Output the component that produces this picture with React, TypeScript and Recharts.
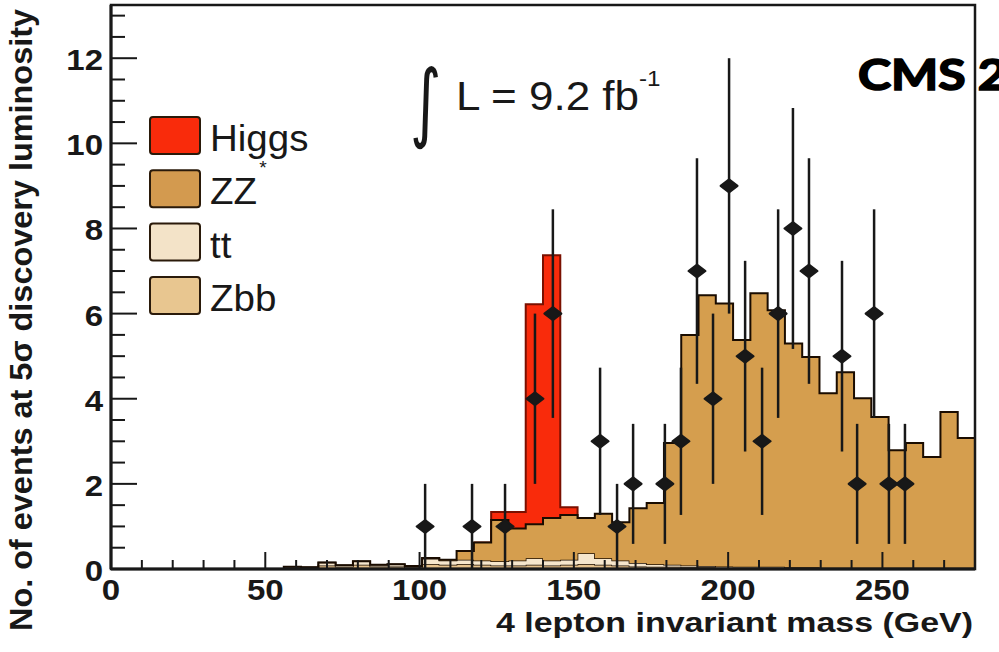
import React from 'react';
import { ComposedChart, Area, Scatter, ErrorBar, XAxis, YAxis, ReferenceArea } from 'recharts';

// ---- data ----
const binEdges = [0, 5.6, 11.2, 16.8, 22.4, 28, 33.6, 39.2, 44.8, 50.4, 56, 61.6, 67.2, 72.8, 78.4, 84, 89.6, 95.2, 100.8, 106.4, 112, 117.6, 123.2, 128.8, 134.4, 140, 145.6, 151.2, 156.8, 162.4, 168, 173.6, 179.2, 184.8, 190.4, 196, 201.6, 207.2, 212.8, 218.4, 224, 229.6, 235.2, 240.8, 246.4, 252, 257.6, 263.2, 268.8, 274.4, 280];

const zbb = [0, 0, 0, 0, 0, 0, 0, 0, 0, 0, 0.03, 0.02, 0.08, 0.05, 0.1, 0.06, 0.06, 0.04, 0.12, 0.1, 0.12, 0.1, 0.08, 0.08, 0.1, 0.08, 0.1, 0.12, 0.1, 0.08, 0.06, 0.05, 0.05, 0.04, 0.04, 0.03, 0.03, 0.03, 0.03, 0.02, 0.02, 0.02, 0.02, 0.02, 0.02, 0.02, 0.02, 0.02, 0.02, 0.02];
const ttbar = [0, 0, 0, 0, 0, 0, 0, 0, 0, 0, 0.02, 0.02, 0.07, 0.04, 0.08, 0.04, 0.05, 0.03, 0.12, 0.1, 0.1, 0.1, 0.1, 0.12, 0.15, 0.12, 0.12, 0.25, 0.15, 0.12, 0.08, 0.06, 0.05, 0.04, 0.03, 0.03, 0.02, 0.02, 0.02, 0.02, 0.02, 0.01, 0.01, 0.01, 0.01, 0.01, 0.01, 0.01, 0.01, 0.01];
const zzStar = [0, 0, 0, 0, 0, 0, 0, 0, 0, 0, 0, 0, 0, 0, 0, 0, 0, 0, 0.02, 0.02, 0.2, 0.42, 0.97, 0.75, 0.8, 1.0, 1.05, 0.83, 1.05, 0.9, 1.29, 1.44, 2.86, 5.42, 6.36, 6.18, 5.33, 6.43, 6.03, 5.26, 4.94, 4.1, 4.59, 3.98, 3.54, 2.76, 2.93, 2.6, 3.66, 3.05];
const higgs = [0, 0, 0, 0, 0, 0, 0, 0, 0, 0, 0, 0, 0, 0, 0, 0, 0, 0, 0, 0, 0, 0, 0.19, 0.39, 5.17, 6.17, 0.18, 0, 0, 0, 0, 0, 0, 0, 0, 0, 0, 0, 0, 0, 0, 0, 0, 0, 0, 0, 0, 0, 0, 0];

const dataMass = [101.8, 117.0, 127.7, 137.4, 143.2, 158.5, 164.0, 169.2, 179.5, 184.7, 189.9, 195.1, 200.3, 205.5, 211.0, 216.2, 221.0, 226.2, 236.9, 241.8, 247.3, 252.1, 257.3];
const dataCounts = [1, 1, 1, 4, 6, 3, 1, 2, 2, 3, 7, 4, 9, 5, 3, 6, 8, 7, 5, 2, 6, 2, 2];
const dataErrors = [1, 1, 1, 2, 2.45, 1.73, 1, 1.41, 1.41, 1.73, 2.65, 2, 3, 2.24, 1.73, 2.45, 2.83, 2.65, 2.24, 1.41, 2.45, 1.41, 1.41];

const xTicks = [0, 10, 20, 30, 40, 50, 60, 70, 80, 90, 100, 110, 120, 130, 140, 150, 160, 170, 180, 190, 200, 210, 220, 230, 240, 250, 260, 270, 280];
const yTicks = [0, 0.5, 1, 1.5, 2, 2.5, 3, 3.5, 4, 4.5, 5, 5.5, 6, 6.5, 7, 7.5, 8, 8.5, 9, 9.5, 10, 10.5, 11, 11.5, 12, 12.5, 13];

const seriesNames = ['Higgs', 'ZZ', 'tt', 'Zbb'];
const seriesSup = ['', '*', '', ''];

// ---- styles ----
const INK = '#181818';
const FONT = '"Liberation Sans", Arial, Helvetica, sans-serif';
const HIGGS_FILL = '#f92b0b';
const HIGGS_LINE = '#7a1000';
const ZZ_FILL = '#d59e4e';
const TT_FILL = '#f6e6cc';
const ZBB_FILL = '#e6c28c';
const BG_LINE = '#1a0c00';
const legendFills = [HIGGS_FILL, '#d39a4f', '#f3e3c8', '#e8c690'];

// ---- tables built from the arrays ----
const nBins = zbb.length;
const bgTotal = zbb.map((v, i) => v + ttbar[i] + zzStar[i]);
const histRows = binEdges.map((x, r) => {
  const i = Math.min(r, nBins - 1);
  let sig: number | null = null;
  if (r < nBins && higgs[r] > 0) sig = bgTotal[r] + higgs[r];
  else if ((r > 0 && higgs[r - 1] > 0) || (r + 1 < nBins && higgs[r + 1] > 0)) sig = bgTotal[i];
  return { x, zbb: zbb[i], tt: ttbar[i], zz: zzStar[i], sig };
});
const points = dataMass.map((x, i) => ({ x, n: dataCounts[i], err: dataErrors[i] }));

const XTick = (props: any) => {
  const { x, y, payload } = props;
  const v = payload.value;
  const major = v % 50 === 0;
  return (
    <g>
      <line x1={x} x2={x} y1={y} y2={y - (major ? 17 : 9)} stroke={INK} strokeWidth={2} />
      {major && (
        <text transform={`translate(${x},${y + 31}) scale(1.1,1)`} textAnchor="middle" fontFamily={FONT} fontWeight="bold" fontSize={30} fill={INK}>
          {v}
        </text>
      )}
    </g>
  );
};

const YTick = (props: any) => {
  const { x, y, payload } = props;
  const v = payload.value;
  const major = v % 2 === 0;
  return (
    <g>
      <line x1={x} x2={x + (major ? 26 : 14)} y1={y} y2={y} stroke={INK} strokeWidth={2} />
      {major && (
        <text transform={`translate(${x - 8},${y + 12}) scale(1.1,1)`} textAnchor="end" fontFamily={FONT} fontWeight="bold" fontSize={30} fill={INK}>
          {v}
        </text>
      )}
    </g>
  );
};

const Marker = (p: any) => {
  const { cx, cy } = p;
  if (cx == null || cy == null) return null;
  return (
    <path
      d={`M${cx - 8.5},${cy} L${cx},${cy - 6.5} L${cx + 8.5},${cy} L${cx},${cy + 6.5} Z`}
      fill={INK}
      stroke={INK}
      strokeWidth={2}
      strokeLinejoin="round"
    />
  );
};

export default function App() {
  return (
    <div style={{ position: 'absolute', left: 0, top: 0, width: 999, height: 652, overflow: 'hidden', background: '#fff' }}>
      <ComposedChart width={999} height={652} data={histRows} margin={{ top: 5, right: 24, bottom: 0, left: 0 }}>
        <XAxis
          type="number"
          dataKey="x"
          domain={[0, 280]}
          allowDataOverflow
          ticks={xTicks}
          interval={0}
          height={83}
          tickSize={0}
          tickMargin={0}
          tickLine={false}
          axisLine={{ stroke: INK, strokeWidth: 3 }}
          tick={XTick}
        />
        <YAxis
          type="number"
          domain={[0, 13.25]}
          allowDataOverflow
          ticks={yTicks}
          interval={0}
          width={111}
          tickSize={0}
          tickMargin={0}
          tickLine={false}
          axisLine={{ stroke: INK, strokeWidth: 3 }}
          tick={YTick}
        />
        <Area dataKey="sig" type="stepAfter" fill={HIGGS_FILL} fillOpacity={1} stroke={HIGGS_LINE} strokeWidth={2} dot={false} activeDot={false} connectNulls={false} isAnimationActive={false} />
        <Area dataKey="zbb" stackId="bg" type="stepAfter" fill={ZBB_FILL} fillOpacity={1} stroke={BG_LINE} strokeWidth={1.5} dot={false} activeDot={false} isAnimationActive={false} />
        <Area dataKey="tt" stackId="bg" type="stepAfter" fill={TT_FILL} fillOpacity={1} stroke={BG_LINE} strokeWidth={1.5} dot={false} activeDot={false} isAnimationActive={false} />
        <Area dataKey="zz" stackId="bg" type="stepAfter" fill={ZZ_FILL} fillOpacity={1} stroke={BG_LINE} strokeWidth={2} dot={false} activeDot={false} isAnimationActive={false} />
        <Scatter data={points} dataKey="n" shape={Marker} isAnimationActive={false}>
          <ErrorBar dataKey="err" direction="y" width={0} stroke={INK} strokeWidth={2.5} />
        </Scatter>
        <ReferenceArea x1={0} x2={280} y1={0} y2={13.25} fill="none" stroke={INK} strokeWidth={2.5} ifOverflow="visible" />
      </ComposedChart>

      <svg width={999} height={652} style={{ position: 'absolute', left: 0, top: 0, pointerEvents: 'none' }}>
        {/* y axis title */}
        <text
          x={32}
          y={320}
          transform="rotate(-90 32 320)"
          textAnchor="middle"
          fontFamily={FONT}
          fontWeight="bold"
          fontSize={31}
          fill={INK}
          textLength={622}
          lengthAdjust="spacingAndGlyphs"
        >
          No. of events at 5σ discovery luminosity
        </text>
        {/* x axis title */}
        <text x={496} y={632} fontFamily={FONT} fontWeight="bold" fontSize={28} fill={INK} textLength={477} lengthAdjust="spacingAndGlyphs">
          4 lepton invariant mass (GeV)
        </text>

        {/* legend */}
        {seriesNames.map((name, i) => {
          const top = 117 + i * 53.3;
          return (
            <g key={name}>
              <rect x={150} y={top} width={50} height={37} rx={3} fill={legendFills[i]} stroke="#2a1a0a" strokeWidth={2} />
              <text transform={`translate(210,${top + 34}) scale(1.07,1)`} fontFamily={FONT} fontSize={36} fill={INK}>
                {name}
                {seriesSup[i] && (
                  <tspan fontSize={18} dy={-30} dx={2}>
                    {seriesSup[i]}
                  </tspan>
                )}
              </text>
            </g>
          );
        })}

        {/* luminosity */}
        <text transform="translate(410,131) scale(0.7,1)" fontFamily='"DejaVu Sans", sans-serif' fontSize={86} fill={INK}>
          ∫
        </text>
        <text transform="translate(456,110) scale(1.1,1)" fontFamily={FONT} fontSize={40} fill={INK}>
          L = 9.2 fb
          <tspan fontSize={22} dy={-24}>-1</tspan>
        </text>

        {/* experiment label */}
        <text
          transform="translate(858,90) scale(1.19,1)"
          fontFamily="Lato, 'Open Sans', sans-serif"
          fontWeight="bold"
          fontSize={42}
          fill="#000"
          stroke="#000"
          strokeWidth={1.6}
        >
          CMS 2
        </text>
      </svg>
    </div>
  );
}
